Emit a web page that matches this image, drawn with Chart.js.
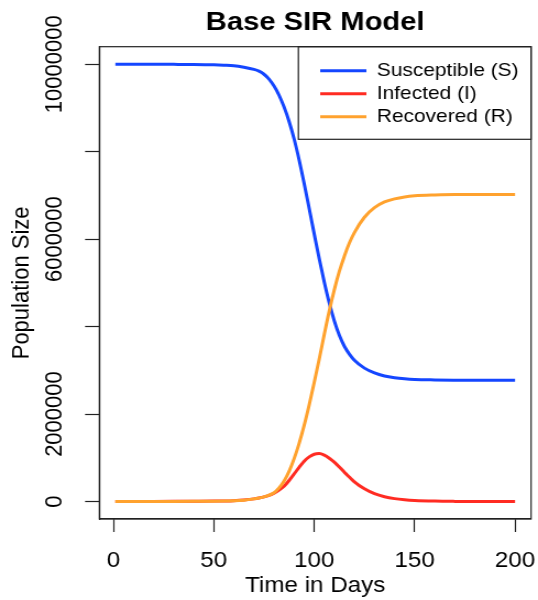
<!DOCTYPE html>
<html>
<head>
<meta charset="utf-8">
<script src="https://cdn.jsdelivr.net/npm/chart.js@4.4.1/dist/chart.umd.min.js"></script>
<style>
  html, body { margin: 0; padding: 0; background: #fff; }
</style>
</head>
<body>
<!-- the reference text is a little wider than tall, so the canvas is stretched -->
<canvas id="sirChart" width="489" height="600" style="display:block;width:538px;height:600px"></canvas>
<script>
// Values
const days = [1, 10, 20, 30, 40, 50, 55, 60, 65, 70, 72.5, 75, 77.5, 80, 82.5, 85, 87.5, 90, 92.5, 95, 97.5, 100, 102.5, 105, 107.5, 110, 112.5, 115, 117.5, 120, 125, 130, 135, 140, 145, 150, 160, 170, 180, 190, 200];

const susceptible = [10000000, 9999000, 9998000, 9996000, 9993000, 9985000, 9977000, 9965000, 9930000, 9880000, 9840000, 9770000, 9660000, 9500000, 9290000, 9020000, 8690000, 8290000, 7810000, 7270000, 6700000, 6120000, 5550000, 5020000, 4540000, 4130000, 3800000, 3550000, 3370000, 3230000, 3050000, 2940000, 2870000, 2830000, 2805000, 2790000, 2780000, 2775000, 2772000, 2771000, 2770000];

const infected = [1000, 1500, 2500, 4000, 6000, 9000, 13000, 20000, 35000, 60000, 80000, 105000, 140000, 190000, 260000, 350000, 480000, 630000, 780000, 920000, 1020000, 1080000, 1095000, 1060000, 990000, 900000, 790000, 670000, 560000, 450000, 290000, 180000, 110000, 66000, 40000, 24000, 9000, 3000, 1000, 400, 150];

const recovered = [0, 1000, 2000, 3000, 5000, 8000, 11000, 16000, 30000, 60000, 80000, 105000, 145000, 200000, 310000, 470000, 690000, 980000, 1330000, 1740000, 2210000, 2720000, 3260000, 3820000, 4360000, 4840000, 5260000, 5610000, 5910000, 6150000, 6500000, 6720000, 6850000, 6920000, 6965000, 6990000, 7010000, 7020000, 7020000, 7020000, 7020000];

const seriesNames = ['Susceptible (S)', 'Infected (I)', 'Recovered (R)'];
const seriesColors = ['#1446ff', '#ff2b22', '#ffa22e'];

const xTicks = [0, 50, 100, 150, 200];
const yTicks = [0, 2000000, 4000000, 6000000, 8000000, 10000000];
const yTickLabels = ['0', '2000000', '', '6000000', '', '10000000'];

const fontFamily = "'Liberation Sans', Arial, Helvetica, sans-serif";
const ink = '#222';

function toPoints(values) {
  return days.map((d, i) => ({ x: d, y: values[i] }));
}

function makeDataset(i, values, order) {
  return {
    label: seriesNames[i],
    data: toPoints(values),
    borderColor: seriesColors[i],
    backgroundColor: seriesColors[i],
    borderWidth: 3,
    pointRadius: 0,
    fill: false,
    cubicInterpolationMode: 'monotone',
    order: order
  };
}

// R style box around the plot region and the legend
const framePlugin = {
  id: 'frame',
  afterLayout(chart) {
    // put the legend in the top right corner of the plot
    chart.legend.left = chart.chartArea.right - 195.7;
    chart.legend.top = chart.chartArea.top + 10.5;
  },
  afterDraw(chart) {
    const { ctx, chartArea } = chart;
    const legendLeft = chartArea.right - 211.5;
    const legendBottom = 139.3;
    ctx.save();
    ctx.strokeStyle = ink;
    ctx.lineWidth = 1.2;
    ctx.strokeRect(chartArea.left, chartArea.top, chartArea.right - chartArea.left, chartArea.bottom - chartArea.top);
    ctx.strokeRect(legendLeft, chartArea.top, chartArea.right - legendLeft, legendBottom - chartArea.top);
    ctx.restore();
  }
};

const tickGrid = {
  display: true,
  drawOnChartArea: false,
  drawTicks: true,
  tickLength: 13,
  tickColor: ink,
  tickWidth: 1.2
};

const ctx = document.getElementById('sirChart').getContext('2d');
new Chart(ctx, {
  type: 'line',
  data: {
    datasets: [
      makeDataset(0, susceptible, 2),
      makeDataset(1, infected, 1),
      makeDataset(2, recovered, 0)
    ]
  },
  options: {
    responsive: false,
    animation: false,
    devicePixelRatio: 1,
    events: [],
    layout: { padding: { left: 0, right: 6.3, top: 0, bottom: 0 } },
    scales: {
      x: {
        type: 'linear',
        min: -6.96,
        max: 207.96,
        afterBuildTicks: (scale) => { scale.ticks = xTicks.map(v => ({ value: v })); },
        afterFit: (scale) => {
          scale.height = 81;
          scale.paddingLeft = 0;
          scale.paddingRight = 0;
        },
        grid: tickGrid,
        border: { display: true, color: ink, width: 1.2 },
        ticks: {
          autoSkip: false,
          maxRotation: 0,
          padding: 16,
          color: '#000',
          font: { family: fontFamily, size: 22 },
          callback: (v) => String(v)
        },
        title: {
          display: true,
          text: 'Time in Days',
          color: '#000',
          font: { family: fontFamily, size: 22 },
          padding: { top: 0, bottom: 0.5 }
        }
      },
      y: {
        type: 'linear',
        min: -400000,
        max: 10400000,
        afterBuildTicks: (scale) => { scale.ticks = yTicks.map(v => ({ value: v })); },
        afterFit: (scale) => {
          scale.width = 90.3;
          scale.paddingTop = 0;
          scale.paddingBottom = 0;
        },
        grid: tickGrid,
        border: { display: true, color: ink, width: 1.2 },
        ticks: {
          autoSkip: false,
          minRotation: 90,
          maxRotation: 90,
          crossAlign: 'center',
          padding: -21.3,
          color: '#000',
          font: { family: fontFamily, size: 22 },
          callback: (v, i) => yTickLabels[i]
        },
        title: {
          display: true,
          text: 'Population Size',
          color: '#000',
          font: { family: fontFamily, size: 22 },
          padding: { top: 6.8, bottom: 0 }
        }
      }
    },
    plugins: {
      title: {
        display: true,
        text: 'Base SIR Model',
        fullSize: false,
        color: '#000',
        font: { family: fontFamily, size: 26.5, weight: 'bold' },
        padding: { top: 6.6, bottom: 8.3 }
      },
      legend: {
        position: 'chartArea',
        align: 'start',
        labels: {
          usePointStyle: true,
          pointStyle: 'line',
          pointStyleWidth: 42,
          padding: 4,
          color: '#000',
          font: { family: fontFamily, size: 19 },
          sort: (a, b) => a.datasetIndex - b.datasetIndex
        }
      },
      tooltip: { enabled: false }
    }
  },
  plugins: [framePlugin]
});
</script>
</body>
</html>
